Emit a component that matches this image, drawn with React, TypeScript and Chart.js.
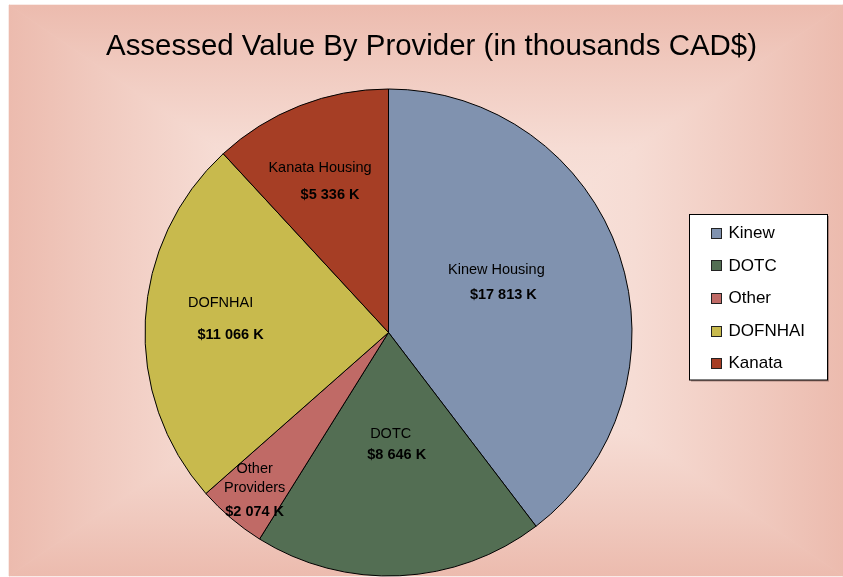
import React, { useEffect, useRef } from "react";
import { Chart, registerables } from "chart.js";

Chart.register(...registerables);

const TITLE = "Assessed Value By Provider (in thousands CAD$)";
const LEGEND_LABELS = ["Kinew", "DOTC", "Other", "DOFNHAI", "Kanata"];
const VALUES = [17813, 8646, 2074, 11066, 5336];
const SLICE_NAMES = [["Kinew Housing"], ["DOTC"], ["Other", "Providers"], ["DOFNHAI"], ["Kanata Housing"]];
const COLORS = ["#8092AF", "#536E53", "#C06A66", "#C8BA4D", "#A63E25"];

// label styling (radius fraction along mid-angle, gap before value line, x shift of value line, nudges)
const LABEL_RADIUS = [0.5, 0.46, 0.85, 0.67, 0.67];
const LABEL_GAP = [25.5, 21, 24, 31.5, 27];
const VALUE_DX = [7, 6, 0, 10, 10];
const LABEL_NUDGE = [[-4, -11], [0, 0], [0, 0], [0, -5], [-4, 1]];

const FONT = "'Liberation Sans', Arial, sans-serif";

function fmtValue(v: number): string {
  const th = Math.floor(v / 1000);
  const rest = String(v % 1000).padStart(3, "0");
  return `$${th} ${rest} K`;
}

function drawPanel(ctx: CanvasRenderingContext2D, x0: number, y0: number, x1: number, y1: number) {
  const cx = (x0 + x1) / 2;
  const cy = (y0 + y1) / 2;
  const stops: [number, string][] = [
    [0, "rgb(250,234,228)"],
    [0.5, "rgb(246,220,212)"],
    [0.8, "rgb(240,201,190)"],
    [1, "rgb(236,187,174)"],
  ];
  ctx.save();
  ctx.fillStyle = "rgb(242,208,198)";
  ctx.fillRect(x0, y0, x1 - x0, y1 - y0);
  const tris: [number, number, number, number, number, number][] = [
    [x0, y0, x1, y0, cx, y0],
    [x1, y0, x1, y1, x1, cy],
    [x1, y1, x0, y1, cx, y1],
    [x0, y1, x0, y0, x0, cy],
  ];
  for (const [ax, ay, bx, by, ex, ey] of tris) {
    const g = ctx.createLinearGradient(cx, cy, ex, ey);
    for (const [o, c] of stops) g.addColorStop(o, c);
    ctx.fillStyle = g;
    ctx.beginPath();
    ctx.moveTo(cx, cy);
    ctx.lineTo(ax, ay);
    ctx.lineTo(bx, by);
    ctx.closePath();
    ctx.fill();
    ctx.strokeStyle = g;
    ctx.lineWidth = 0.6;
    ctx.stroke();
  }
  ctx.restore();
}

const decorPlugin = {
  id: "decor",
  beforeDraw(chart: any) {
    const ctx = chart.ctx as CanvasRenderingContext2D;
    ctx.save();
    ctx.fillStyle = "#ffffff";
    ctx.fillRect(0, 0, chart.width, chart.height);
    ctx.restore();
    drawPanel(ctx, 9, 5, 843, 576);
  },
  afterDatasetsDraw(chart: any) {
    const ctx = chart.ctx as CanvasRenderingContext2D;
    const meta = chart.getDatasetMeta(0);
    const values = chart.data.datasets[0].data as number[];
    ctx.save();
    ctx.fillStyle = "#000";
    ctx.textAlign = "center";
    ctx.textBaseline = "middle";
    meta.data.forEach((arc: any, i: number) => {
      const p = arc.getProps(["x", "y", "startAngle", "endAngle", "outerRadius"], true);
      const mid = (p.startAngle + p.endAngle) / 2;
      const r = p.outerRadius * LABEL_RADIUS[i];
      const cx = p.x + Math.cos(mid) * r + LABEL_NUDGE[i][0];
      const cy = p.y + Math.sin(mid) * r + LABEL_NUDGE[i][1];
      const names = SLICE_NAMES[i];
      const lineH = 19;
      const total = (names.length - 1) * lineH + LABEL_GAP[i];
      let y = cy - total / 2;
      ctx.font = `14.5px ${FONT}`;
      names.forEach((n, k) => {
        ctx.fillText(n, cx - VALUE_DX[i] / 2, y + k * lineH);
      });
      y += (names.length - 1) * lineH + LABEL_GAP[i];
      ctx.font = `bold 14.5px ${FONT}`;
      ctx.fillText(fmtValue(values[i]), cx + VALUE_DX[i] / 2, y);
    });
    ctx.restore();
  },
  afterDraw(chart: any) {
    const ctx = chart.ctx as CanvasRenderingContext2D;
    // title
    ctx.save();
    ctx.font = `30px ${FONT}`;
    ctx.fillStyle = "#000";
    ctx.textBaseline = "alphabetic";
    ctx.textAlign = "center";
    const w = ctx.measureText(TITLE).width;
    const target = 651;
    ctx.translate(431.5, 55);
    ctx.scale(target / w, 1);
    ctx.fillText(TITLE, 0, 0);
    ctx.restore();

    // legend
    const bx = 689.5, by = 214.5, bw = 138, bh = 165.5;
    ctx.save();
    ctx.fillStyle = "rgba(90,60,55,0.45)";
    ctx.fillRect(bx + 1.5, by + 1.5, bw, bh);
    ctx.fillStyle = "#ffffff";
    ctx.fillRect(bx, by, bw, bh);
    ctx.strokeStyle = "#000";
    ctx.lineWidth = 1;
    ctx.strokeRect(bx, by, bw, bh);
    const labels = chart.data.labels as string[];
    const colors = chart.data.datasets[0].backgroundColor as string[];
    ctx.font = `17px ${FONT}`;
    ctx.textAlign = "left";
    ctx.textBaseline = "middle";
    labels.forEach((lab, i) => {
      const yc = 232.7 + i * 32.65;
      ctx.fillStyle = colors[i];
      ctx.fillRect(711.5, Math.round(yc - 5) + 0.5, 10, 10);
      ctx.strokeStyle = "#222";
      ctx.strokeRect(711.5, Math.round(yc - 5) + 0.5, 10, 10);
      ctx.fillStyle = "#000";
      ctx.fillText(lab, 728.5, yc + 0.5);
    });
    ctx.restore();
  },
};

export default function App() {
  const ref = useRef<HTMLCanvasElement | null>(null);
  useEffect(() => {
    if (!ref.current) return;
    const chart = new Chart(ref.current, {
      type: "pie",
      data: {
        labels: LEGEND_LABELS,
        datasets: [
          {
            data: VALUES,
            backgroundColor: COLORS,
            borderColor: "#000",
            borderWidth: 1,
          },
        ],
      },
      options: {
        responsive: false,
        animation: false,
        devicePixelRatio: 1,
        layout: { padding: { top: 88.5, bottom: 0.5, left: 144.5, right: 210.5 } },
        plugins: {
          legend: { display: false },
          tooltip: { enabled: false },
          title: { display: false },
        },
      },
      plugins: [decorPlugin],
    } as any);
    return () => chart.destroy();
  }, []);
  return (
    <div style={{ position: "fixed", left: 0, top: 0, width: 843, height: 577 }}>
      <canvas ref={ref} width={843} height={577} style={{ display: "block" }} />
    </div>
  );
}
